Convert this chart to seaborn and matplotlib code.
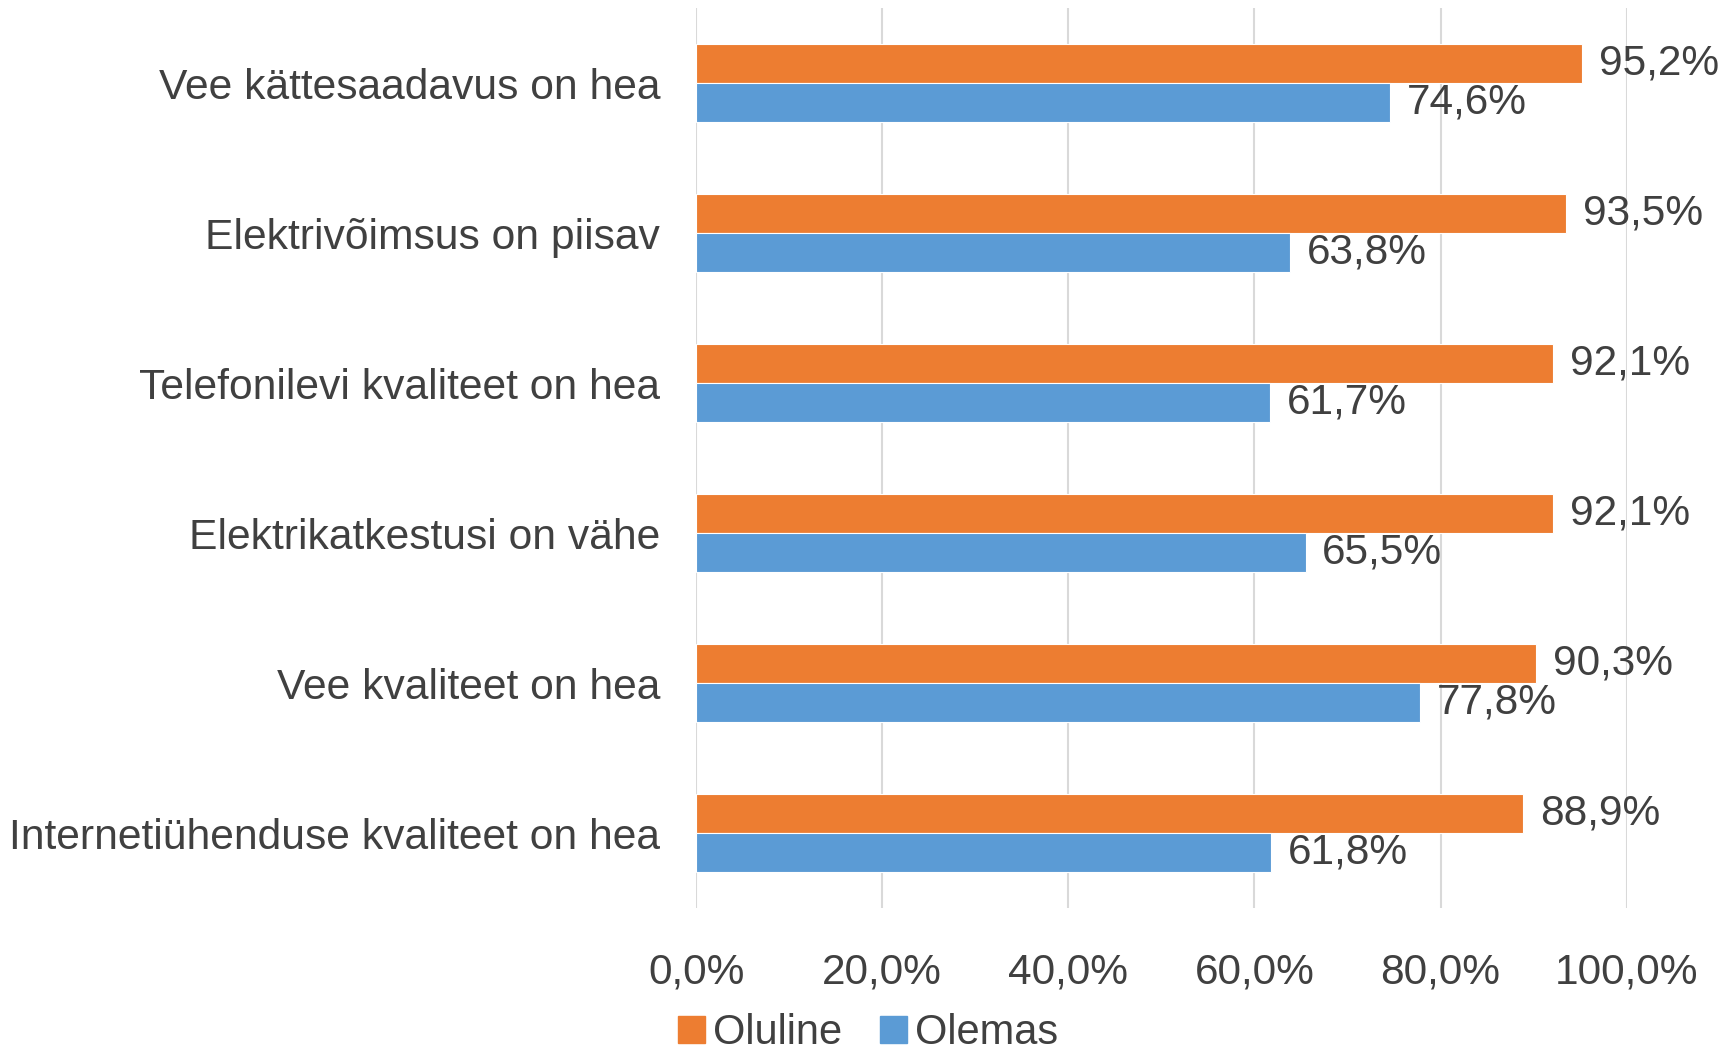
import pandas as pd
import matplotlib.pyplot as plt
import seaborn as sns
from matplotlib.ticker import FuncFormatter

sns.set_theme(style="white")
plt.rcParams['font.family'] = ['Liberation Sans', 'DejaVu Sans']

categories = [
    'Vee kättesaadavus on hea',
    'Elektrivõimsus on piisav',
    'Telefonilevi kvaliteet on hea',
    'Elektrikatkestusi on vähe',
    'Vee kvaliteet on hea',
    'Internetiühenduse kvaliteet on hea',
]
oluline = [95.2, 93.5, 92.1, 92.1, 90.3, 88.9]
olemas = [74.6, 63.8, 61.7, 65.5, 77.8, 61.8]
series_names = ['Oluline', 'Olemas']
colors = ['#ED7D31', '#5B9BD5']
text_color = '#404040'


def pct(v):
    return f"{v:.1f}%".replace('.', ',')


df = pd.DataFrame({
    'category': categories * 2,
    'value': oluline + olemas,
    'series': [series_names[0]] * len(categories) + [series_names[1]] * len(categories),
})

fig = plt.figure(figsize=(17.36, 10.51), dpi=100)
ax = fig.add_axes([0.401, 0.136, 0.536, 0.856])

sns.barplot(
    data=df, x='value', y='category', hue='series',
    hue_order=series_names, palette=colors, orient='h',
    width=0.52, gap=0, saturation=1, ax=ax,
    edgecolor='white', linewidth=0.8,
)

# data labels next to each bar
for cont in ax.containers:
    ax.bar_label(cont, labels=[pct(v) for v in cont.datavalues],
                 padding=12, fontsize=30.5, color=text_color)

ax.set_xlim(0, 100)
ax.set_xticks([0, 20, 40, 60, 80, 100])
ax.xaxis.set_major_formatter(FuncFormatter(lambda v, _: pct(v)))
ax.grid(axis='x', color='#D9D9D9', linewidth=1.5)
ax.set_axisbelow(True)
for s in ax.spines.values():
    s.set_visible(False)
ax.tick_params(axis='x', length=0, labelsize=30.5, labelcolor=text_color, pad=32)
ax.tick_params(axis='y', length=0, labelsize=30.7, labelcolor=text_color, pad=26)
ax.set_xlabel('')
ax.set_ylabel('')

ax.get_legend().remove()
handles = [plt.Rectangle((0, 0), 1, 1, color=c) for c in colors]
fig.legend(handles, series_names, loc='center', bbox_to_anchor=(0.5, 0.017),
           ncol=2, frameon=False, fontsize=30, labelcolor=text_color,
           handlelength=0.65, handleheight=0.65, handletextpad=0.2,
           columnspacing=0.9)

fig.savefig('out.png', dpi=100)
